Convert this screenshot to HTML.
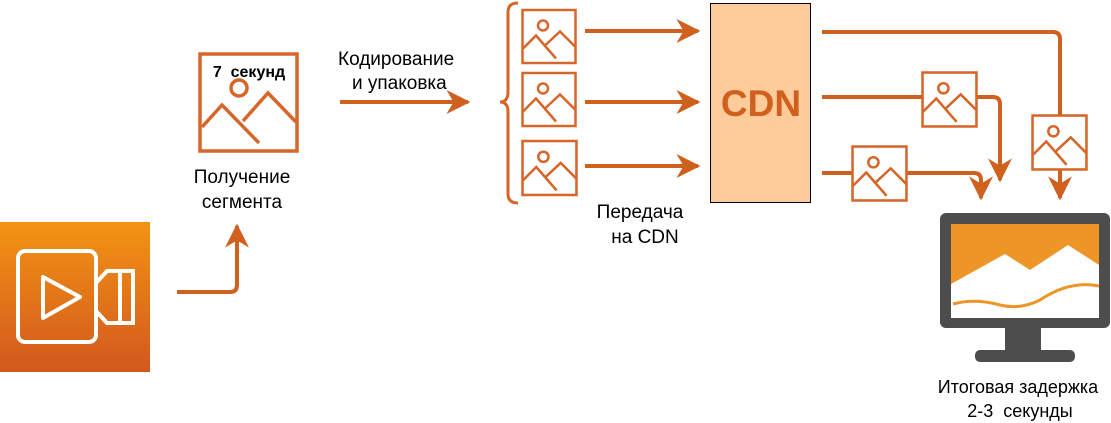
<!DOCTYPE html>
<html><head><meta charset="utf-8"><style>
html,body{margin:0;padding:0;background:#fff;}
svg{display:block;}
text{font-family:"Liberation Sans",sans-serif;}
</style></head><body>
<svg width="1111" height="423" viewBox="0 0 1111 423" xmlns="http://www.w3.org/2000/svg">
<defs>
<linearGradient id="g" x1="0" y1="0" x2="0" y2="1"><stop offset="0" stop-color="#F39314"/><stop offset="1" stop-color="#D3581E"/></linearGradient>
<symbol id="ic" viewBox="0 0 56 56">
<rect x="1.5" y="1.5" width="53" height="53" fill="#fff" stroke="#D6662A" stroke-width="2.5"/>
<circle cx="22" cy="17" r="5" fill="none" stroke="#D6662A" stroke-width="2.5"/>
<path d="M2,40 L15,27 L35,50 M24,37 L39,23 L54,38" fill="none" stroke="#D6662A" stroke-width="2.5"/>
</symbol>
<marker id="ah" viewBox="0 0 10 10" refX="9" refY="5" markerWidth="6" markerHeight="6" orient="auto" markerUnits="strokeWidth"><path d="M0,0 L10,5 L0,10 L3,5 Z" fill="#D0601E"/></marker>
</defs>

<rect x="0" y="222" width="150" height="150" fill="url(#g)"/>
<rect x="18" y="251" width="78" height="91" rx="7" fill="none" stroke="#fff" stroke-width="4"/>
<path d="M43,277 L80,297 L43,318 Z" fill="none" stroke="#fff" stroke-width="4" stroke-linejoin="round"/>
<path d="M96,283 L107,271 L133,271 L133,323 L107,323 L96,311" fill="none" stroke="#fff" stroke-width="4"/>
<line x1="120" y1="271" x2="120" y2="323" stroke="#fff" stroke-width="4"/>

<path d="M177,292 L230,292 Q237,292 237,285 L237,226" fill="none" stroke="#D0601E" stroke-width="4" marker-end="url(#ah)"/>

<rect x="200" y="54" width="97" height="97" fill="#fff" stroke="#D6662A" stroke-width="3.5"/>
<circle cx="239" cy="88" r="8" fill="none" stroke="#D6662A" stroke-width="3.5"/>
<path d="M202,127 L222,105 L259,143 M243,121 L268,93 L296,122" fill="none" stroke="#D6662A" stroke-width="3.5"/>
<text x="249" y="77" font-size="16" font-weight="bold" text-anchor="middle" xml:space="preserve">7  секунд</text>
<text x="242" y="183" font-size="19" text-anchor="middle">Получение</text>
<text x="242" y="208" font-size="19" text-anchor="middle">сегмента</text>

<text x="338" y="65" font-size="19">Кодирование</text>
<text x="352" y="89" font-size="19">и упаковка</text>
<line x1="340" y1="102" x2="468" y2="102" stroke="#D0601E" stroke-width="4" marker-end="url(#ah)"/>

<path d="M518,3 Q508,3 508,12 L508,92 Q508,102 500,102 Q508,102 508,112 L508,194 Q508,203 518,203" fill="none" stroke="#D6662A" stroke-width="3"/>

<use href="#ic" x="521" y="3" width="56" height="67"/>
<use href="#ic" x="521" y="71" width="56" height="57"/>
<use href="#ic" x="521" y="139" width="57" height="58"/>

<line x1="585" y1="31" x2="698" y2="31" stroke="#D0601E" stroke-width="4" marker-end="url(#ah)"/>
<line x1="585" y1="102" x2="698" y2="102" stroke="#D0601E" stroke-width="4" marker-end="url(#ah)"/>
<line x1="585" y1="166" x2="698" y2="166" stroke="#D0601E" stroke-width="4" marker-end="url(#ah)"/>

<text x="640" y="218" font-size="19" text-anchor="middle">Передача</text>
<text x="645" y="243" font-size="19" text-anchor="middle">на CDN</text>

<rect x="710.5" y="3.5" width="100" height="199" fill="#FECB9A" stroke="#000" stroke-width="1"/>
<text x="761" y="116" font-size="37" font-weight="bold" fill="#D0601E" text-anchor="middle">CDN</text>

<path d="M822,32 L1053,32 Q1060,32 1060,39 L1060,198" fill="none" stroke="#D0601E" stroke-width="4" marker-end="url(#ah)"/>
<path d="M822,97 L993,97 Q1000,97 1000,104 L1000,180" fill="none" stroke="#D0601E" stroke-width="4" marker-end="url(#ah)"/>
<path d="M822,173 L974,173 Q981,173 981,180 L981,198" fill="none" stroke="#D0601E" stroke-width="4" marker-end="url(#ah)"/>
<use href="#ic" x="921" y="71" width="57" height="57"/>
<use href="#ic" x="851" y="145" width="57" height="57"/>
<use href="#ic" x="1031" y="114" width="57" height="57"/>

<rect x="940" y="213" width="170" height="115" rx="6" fill="#4D4D4D"/>
<rect x="951" y="224" width="148" height="94" fill="#fff"/>
<path d="M951,224 L1099,224 L1099,265 L1068,245 L1030,270 L1005,254 L951,284 Z" fill="#EE9527"/>
<path d="M953,304 Q975,298 1000,305 Q1020,310 1040,300 Q1070,280 1099,286" fill="none" stroke="#EE9527" stroke-width="3"/>
<rect x="1005" y="326" width="36" height="26" fill="#4D4D4D"/>
<rect x="975" y="350" width="100" height="12" rx="5" fill="#4D4D4D"/>

<text x="1018" y="393" font-size="18" text-anchor="middle">Итоговая задержка</text>
<text x="1020" y="417" font-size="18" text-anchor="middle" xml:space="preserve">2-3  секунды</text>
</svg>
</body></html>
